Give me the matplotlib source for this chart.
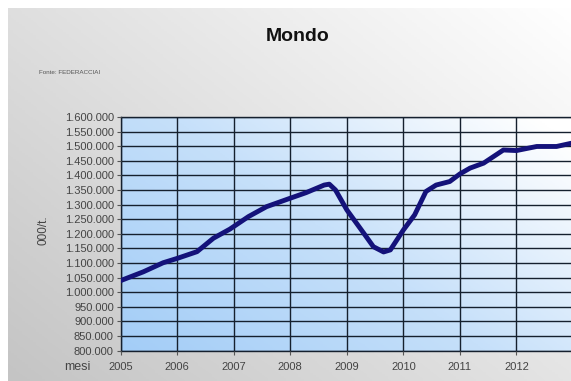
import numpy as np
import matplotlib
matplotlib.use("Agg")
from matplotlib import pyplot as plt
from matplotlib.colors import LinearSegmentedColormap

plt.rcParams['font.family'] = ['Liberation Sans', 'DejaVu Sans']

# data (decimal year, thousand tonnes)
anni = [2005.0, 2005.4, 2005.75, 2006.0, 2006.35, 2006.64, 2006.93, 2007.26,
        2007.58, 2008.0, 2008.28, 2008.6, 2008.69, 2008.8, 2009.0, 2009.3,
        2009.47, 2009.65, 2009.77, 2010.0, 2010.2, 2010.4, 2010.58, 2010.82,
        2011.0, 2011.18, 2011.42, 2011.77, 2012.0, 2012.36, 2012.71, 2012.97]
produzione = [1040000, 1070000, 1101000, 1116000, 1139000, 1185000, 1216000, 1259000,
              1293000, 1322000, 1341000, 1367000, 1370000, 1350000, 1282000, 1202000,
              1156000, 1138000, 1145000, 1213000, 1265000, 1345000, 1367000, 1379000,
              1405000, 1425000, 1442000, 1487000, 1485000, 1499000, 1499000, 1510000]
y_ticks = list(range(800000, 1600001, 50000))
x_ticks = [2005, 2006, 2007, 2008, 2009, 2010, 2011, 2012]


def fmt_it(v):
    return f"{v:,}".replace(",", ".")


fig = plt.figure(figsize=(5.71, 3.81), dpi=100)

# slide background: gray bottom-left to white top-right
bg = fig.add_axes([0.014, 0, 0.986, 0.98], zorder=-10)
gx, gy = np.meshgrid(np.linspace(0, 1, 200), np.linspace(0, 1, 200))
g = (gx * 0.55 + (1 - gy) * 0.45)
bg_cmap = LinearSegmentedColormap.from_list("bg", ["#c4c4c4", "#ffffff"])
bg.imshow(g, cmap=bg_cmap, aspect="auto", extent=[0, 1, 0, 1], origin="upper")
bg.axis("off")

ax = fig.add_axes([0.2114, 0.0795, 0.79, 0.6135])
ax.set_xlim(2005, 2012.98)
ax.set_ylim(800000, 1600000)

# plot area gradient: light blue bottom-left to white top-right
px, py = np.meshgrid(np.linspace(0, 1, 200), np.linspace(0, 1, 200))
pg = (px * 0.65 + py * 0.45)
pa_cmap = LinearSegmentedColormap.from_list("pa", ["#a3cdf7", "#c6e0fa", "#ffffff"])
ax.imshow(pg, cmap=pa_cmap, aspect="auto", extent=[2005, 2012.98, 800000, 1600000],
          origin="lower", zorder=0, vmin=0, vmax=1.05)

ax.set_yticks(y_ticks)
ax.set_yticklabels([fmt_it(v) for v in y_ticks])
ax.set_xticks(x_ticks)
ax.set_xticklabels([str(x) for x in x_ticks])
ax.grid(True, color="#15202e", linewidth=1.0, zorder=1)
ax.set_axisbelow(False)

ax.plot(anni, produzione, color="#14127a", linewidth=3.5, solid_capstyle="round",
        solid_joinstyle="round", zorder=3)

ax.tick_params(axis="both", labelsize=8, colors="#555555", length=3, width=0.8)
ax.tick_params(axis="x", pad=5)
ax.tick_params(axis="y", pad=2)
for lab in ax.get_xticklabels() + ax.get_yticklabels():
    lab.set_color("#444444")
for s in ax.spines.values():
    s.set_color("#15202e")
    s.set_linewidth(1.0)

fig.text(0.522, 0.905, "Mondo", ha="center", va="center", fontsize=14, fontweight="bold", color="#111111")
fig.text(0.068, 0.81, "Fonte: FEDERACCIAI", ha="left", va="center", fontsize=4.5, color="#555555")
fig.text(0.077, 0.397, "000/t.", ha="center", va="center", rotation=90, fontsize=8.5, color="#444444")
fig.text(0.135, 0.036, "mesi", ha="center", va="center", fontsize=9, color="#444444")

fig.savefig("out.png", dpi=100)
